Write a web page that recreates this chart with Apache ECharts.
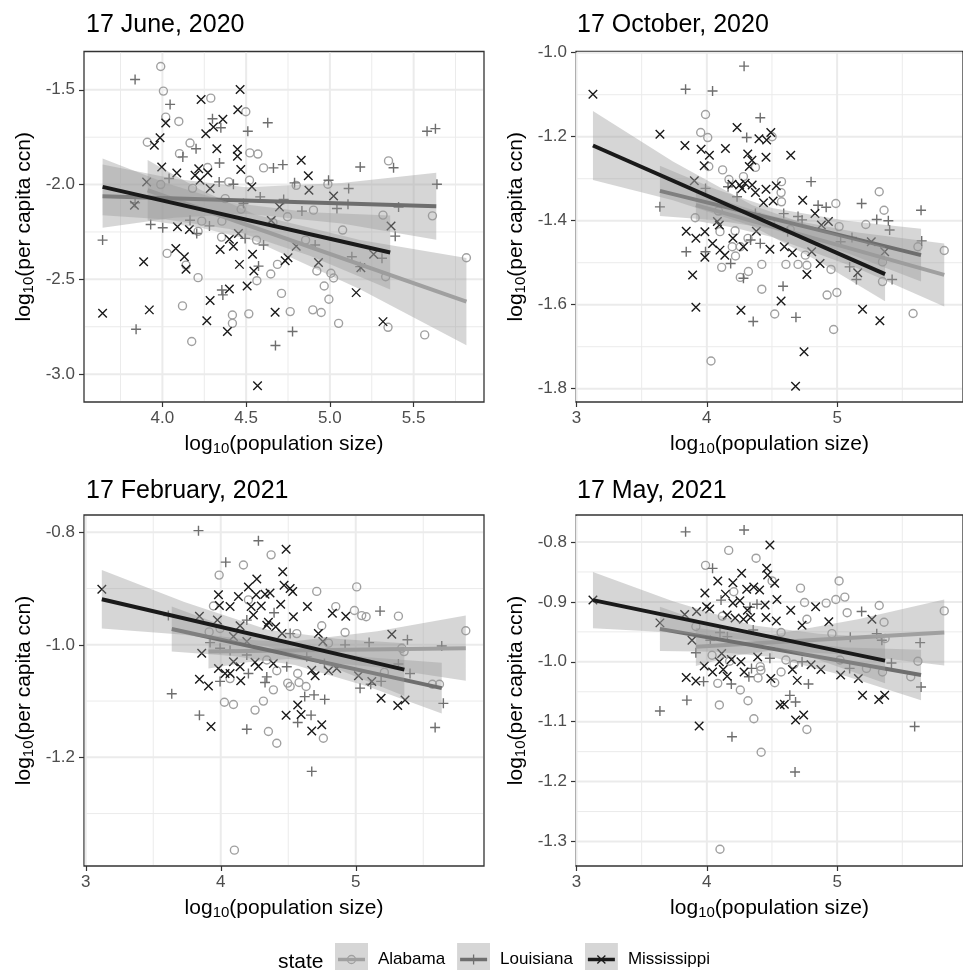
<!DOCTYPE html>
<html><head><meta charset="utf-8">
<script src="https://cdn.jsdelivr.net/npm/echarts@6/dist/echarts.min.js"></script>
<style>html,body{margin:0;padding:0;background:#fff}#c{width:963px;height:970px}</style>
</head><body><div id="c"></div>
<script>
const states = ['Alabama', 'Louisiana', 'Mississippi'];
const panelTitles = ['17 June, 2020', '17 October, 2020', '17 February, 2021', '17 May, 2021'];

// ---------- tick values ----------
const jun20_xMajor = [4.0, 4.5, 5.0, 5.5];
const jun20_xMinor = [3.75, 4.25, 4.75, 5.25, 5.75];
const jun20_yMajor = [-3.0, -2.5, -2.0, -1.5];
const jun20_yMinor = [-2.75, -2.25, -1.75];
const oct20_xMajor = [3, 4, 5];
const oct20_xMinor = [3.5, 4.5, 5.5];
const oct20_yMajor = [-1.8, -1.6, -1.4, -1.2, -1.0];
const oct20_yMinor = [-1.7, -1.5, -1.3, -1.1];
const feb21_xMajor = [3, 4, 5];
const feb21_xMinor = [3.5, 4.5, 5.5];
const feb21_yMajor = [-1.2, -1.0, -0.8];
const feb21_yMinor = [-1.3, -1.1, -0.9];
const may21_xMajor = [3, 4, 5];
const may21_xMinor = [3.5, 4.5, 5.5];
const may21_yMajor = [-1.3, -1.2, -1.1, -1.0, -0.9, -0.8];
const may21_yMinor = [-1.25, -1.15, -1.05, -0.95, -0.85];

// ---------- 17 June 2020 ----------
const jun20_AL = [[3.99,-1.377],[4.006,-1.507],[4.289,-1.544],[4.498,-1.616],[4.02,-1.644],[4.098,-1.667],[3.91,-1.777],[4.165,-1.781],[4.102,-1.837],[4.522,-1.833],[4.57,-1.839],[4.604,-1.912],[4.27,-1.91],[5.35,-1.875],[4.52,-1.977],[4.396,-1.986],[4.799,-2.004],[4.988,-1.998],[4.902,-2.135],[5.317,-2.161],[5.612,-2.165],[4.747,-2.17],[4.235,-2.193],[4.355,-2.193],[4.213,-2.247],[5.076,-2.24],[4.353,-2.277],[4.562,-2.293],[4.855,-2.293],[4.028,-2.363],[5.815,-2.386],[4.687,-2.421],[4.141,-2.425],[4.213,-2.491],[4.647,-2.472],[4.564,-2.507],[4.922,-2.456],[5.006,-2.468],[5.022,-2.493],[5.333,-2.486],[4.966,-2.535],[4.711,-2.574],[4.994,-2.605],[4.12,-2.64],[4.418,-2.688],[4.418,-2.732],[4.516,-2.682],[4.763,-2.67],[4.898,-2.661],[4.948,-2.675],[5.052,-2.732],[5.347,-2.753],[5.566,-2.793],[4.175,-2.828],[4.375,-2.074],[3.99,-2.0],[4.18,-2.02],[4.47,-2.13],[4.66,-2.2]];
const jun20_LA = [[3.837,-1.446],[4.046,-1.577],[4.299,-1.653],[4.349,-1.70],[4.629,-1.674],[4.51,-1.719],[5.58,-1.719],[5.63,-1.705],[4.201,-1.811],[4.122,-1.854],[4.341,-1.886],[4.719,-1.895],[4.663,-1.912],[5.181,-1.907],[5.38,-1.911],[4.339,-1.986],[4.424,-1.998],[4.789,-1.991],[4.992,-1.977],[5.112,-2.021],[5.639,-1.998],[4.04,-1.968],[4.584,-2.065],[4.724,-2.079],[5.042,-2.126],[5.108,-2.104],[5.41,-2.118],[4.833,-2.14],[3.837,-2.096],[3.93,-2.211],[4.002,-2.228],[4.281,-2.218],[3.643,-2.293],[4.205,-2.258],[4.494,-2.284],[4.604,-2.319],[5.39,-2.272],[4.574,-2.43],[5.131,-2.381],[5.311,-2.389],[5.181,-2.433],[4.355,-2.556],[4.361,-2.582],[3.843,-2.763],[4.777,-2.775],[4.675,-2.849],[4.912,-2.319],[4.484,-2.1],[4.165,-2.188]];
const jun20_MS = [[4.464,-1.498],[4.231,-1.551],[4.45,-1.605],[4.02,-1.675],[4.361,-1.656],[4.305,-1.696],[4.259,-1.732],[3.986,-1.753],[3.952,-1.793],[4.325,-1.811],[4.448,-1.814],[4.448,-1.851],[4.829,-1.872],[3.996,-1.907],[4.468,-1.921],[4.217,-1.916],[4.271,-1.937],[4.086,-1.939],[4.195,-1.951],[4.871,-1.954],[4.225,-1.977],[4.534,-2.012],[4.285,-2.021],[4.875,-2.03],[5.022,-2.06],[3.906,-1.986],[3.833,-2.109],[4.699,-2.118],[4.09,-2.223],[4.161,-2.237],[5.365,-2.219],[4.454,-2.258],[4.4,-2.288],[4.345,-2.342],[4.424,-2.325],[4.08,-2.337],[4.131,-2.381],[4.538,-2.367],[4.799,-2.325],[3.888,-2.407],[4.733,-2.402],[5.261,-2.368],[4.46,-2.421],[4.141,-2.447],[4.932,-2.411],[5.185,-2.439],[4.546,-2.456],[4.506,-2.535],[4.4,-2.551],[5.157,-2.57],[4.285,-2.612],[3.643,-2.679],[3.922,-2.661],[4.673,-2.674],[4.265,-2.718],[5.317,-2.723],[4.388,-2.775],[4.568,-3.061],[4.75,-2.386],[4.65,-2.19]];
const jun20_fit_AL = [[3.912,-2.03],[5.815,-2.618]];
const jun20_fit_LA = [[3.643,-2.061],[5.635,-2.114]];
const jun20_fit_MS = [[3.643,-2.012],[5.36,-2.358]];
const jun20_band_AL = [[3.912,-2.19,-1.87],[4.23,-2.228,-2.028],[4.55,-2.297,-2.157],[5.18,-2.552,-2.292],[5.815,-2.848,-2.388]];
const jun20_band_LA = [[3.643,-2.228,-1.894],[4.07,-2.175,-1.969],[4.5,-2.154,-2.014],[5.07,-2.206,-1.992],[5.635,-2.291,-1.937]];
const jun20_band_MS = [[3.643,-2.162,-1.862],[4.02,-2.184,-1.992],[4.4,-2.235,-2.095],[4.88,-2.376,-2.146],[5.36,-2.553,-2.163]];

// ---------- 17 October 2020 ----------
const oct20_AL = [[3.99,-1.147],[3.953,-1.19],[4.007,-1.202],[4.501,-1.2],[4.015,-1.271],[4.121,-1.279],[4.373,-1.273],[4.17,-1.302],[4.281,-1.295],[4.573,-1.307],[4.57,-1.333],[4.573,-1.355],[4.99,-1.359],[5.323,-1.331],[5.36,-1.375],[5.22,-1.409],[5.015,-1.414],[3.911,-1.393],[4.089,-1.377],[4.101,-1.426],[4.217,-1.424],[4.316,-1.442],[4.257,-1.462],[4.195,-1.462],[4.114,-1.511],[4.22,-1.484],[4.319,-1.521],[4.257,-1.535],[4.422,-1.504],[4.607,-1.504],[4.7,-1.504],[4.768,-1.506],[4.953,-1.516],[4.756,-1.482],[5.348,-1.498],[5.348,-1.545],[5.583,-1.621],[5.822,-1.471],[5.62,-1.462],[4.422,-1.563],[4.521,-1.622],[4.923,-1.577],[4.998,-1.571],[4.973,-1.659],[4.032,-1.734],[4.64,-1.421],[4.489,-1.405]];
const oct20_LA = [[4.286,-1.032],[3.837,-1.087],[4.044,-1.091],[4.41,-1.155],[4.306,-1.202],[4.8,-1.307],[5.188,-1.359],[5.644,-1.375],[4.916,-1.368],[4.854,-1.363],[3.64,-1.367],[3.99,-1.323],[4.163,-1.319],[4.232,-1.343],[4.373,-1.383],[4.59,-1.383],[4.7,-1.39],[5.304,-1.397],[5.393,-1.4],[5.403,-1.422],[3.842,-1.474],[3.99,-1.474],[4.336,-1.446],[4.41,-1.454],[4.183,-1.502],[4.281,-1.537],[5.114,-1.44],[5.027,-1.45],[5.096,-1.51],[5.148,-1.54],[5.422,-1.54],[5.649,-1.448],[4.585,-1.556],[4.684,-1.63],[4.356,-1.64],[4.62,-1.426],[4.731,-1.398]];
const oct20_MS = [[3.126,-1.099],[3.64,-1.194],[3.832,-1.221],[3.956,-1.23],[4.02,-1.244],[3.98,-1.269],[4.143,-1.228],[4.232,-1.178],[4.314,-1.241],[4.346,-1.256],[4.4,-1.205],[4.459,-1.208],[4.491,-1.19],[4.454,-1.249],[4.644,-1.244],[3.904,-1.305],[4.193,-1.313],[4.252,-1.315],[4.294,-1.311],[4.348,-1.315],[4.373,-1.333],[4.454,-1.325],[4.533,-1.317],[4.435,-1.357],[4.509,-1.353],[4.736,-1.351],[4.83,-1.383],[4.081,-1.402],[4.096,-1.41],[4.933,-1.402],[4.879,-1.41],[3.842,-1.425],[3.916,-1.442],[3.985,-1.426],[4.044,-1.454],[4.101,-1.47],[4.138,-1.482],[4.2,-1.442],[4.281,-1.462],[4.38,-1.425],[4.484,-1.468],[4.595,-1.462],[4.657,-1.476],[4.805,-1.474],[4.869,-1.502],[4.768,-1.528],[5.158,-1.524],[5.365,-1.474],[5.262,-1.45],[3.891,-1.529],[3.985,-1.487],[3.916,-1.606],[4.262,-1.613],[4.57,-1.591],[5.195,-1.611],[5.328,-1.638],[4.746,-1.712],[4.681,-1.794],[4.326,-1.271],[4.269,-1.323]];
const oct20_fit_AL = [[3.916,-1.363],[5.822,-1.529]];
const oct20_fit_LA = [[3.64,-1.329],[5.644,-1.482]];
const oct20_fit_MS = [[3.126,-1.221],[5.368,-1.527]];
const oct20_band_AL = [[3.916,-1.40,-1.326],[4.21,-1.417,-1.36],[4.5,-1.439,-1.389],[5.16,-1.514,-1.428],[5.822,-1.604,-1.454]];
const oct20_band_LA = [[3.64,-1.389,-1.269],[4.07,-1.399,-1.325],[4.5,-1.42,-1.37],[5.07,-1.476,-1.40],[5.644,-1.545,-1.419]];
const oct20_band_MS = [[3.126,-1.303,-1.139],[3.74,-1.351,-1.259],[4.35,-1.413,-1.363],[4.86,-1.497,-1.419],[5.368,-1.592,-1.462]];

// ---------- 17 February 2021 ----------
const feb21_AL = [[4.373,-0.84],[4.168,-0.858],[3.988,-0.876],[5.007,-0.897],[4.711,-0.905],[4.205,-0.92],[3.946,-0.931],[4.852,-0.932],[4.99,-0.939],[5.044,-0.948],[5.077,-0.95],[5.316,-0.949],[4.748,-0.966],[4.921,-0.978],[5.815,-0.975],[4.563,-0.98],[3.914,-0.977],[3.995,-0.971],[4.798,-0.997],[5.341,-1.006],[5.358,-1.012],[5.212,-1.049],[4.069,-1.06],[4.496,-1.068],[4.57,-1.051],[4.415,-1.046],[4.514,-1.074],[4.58,-1.067],[4.632,-1.074],[4.39,-1.08],[5.568,-1.07],[5.62,-1.07],[4.027,-1.102],[4.094,-1.106],[4.316,-1.1],[4.254,-1.116],[4.353,-1.154],[4.415,-1.175],[4.76,-1.166],[4.101,-1.365],[4.341,-1.027]];
const feb21_LA = [[3.835,-0.797],[4.279,-0.815],[4.037,-0.853],[3.612,-0.948],[4.395,-0.943],[4.193,-0.956],[4.514,-0.98],[5.18,-0.94],[5.383,-0.991],[5.099,-0.996],[4.921,-1.0],[5.637,-1.002],[3.921,-0.996],[3.995,-1.006],[4.069,-1.01],[4.205,-1.051],[4.193,-1.018],[4.341,-1.057],[4.328,-1.067],[3.995,-1.065],[4.489,-1.039],[4.637,-1.021],[4.768,-1.033],[5.402,-1.051],[5.032,-1.077],[5.111,-1.07],[5.188,-1.065],[5.316,-1.034],[3.637,-1.087],[4.622,-1.092],[4.691,-1.089],[4.77,-1.097],[5.649,-1.104],[3.842,-1.125],[4.669,-1.125],[4.57,-1.138],[4.193,-1.15],[5.588,-1.147],[4.674,-1.225]];
const feb21_MS = [[3.119,-0.901],[4.484,-0.83],[4.459,-0.87],[4.267,-0.883],[4.205,-0.897],[3.983,-0.911],[4.131,-0.914],[4.262,-0.911],[4.328,-0.91],[4.365,-0.908],[4.469,-0.894],[4.533,-0.905],[4.514,-0.9],[3.99,-0.93],[4.069,-0.932],[4.225,-0.932],[4.3,-0.931],[4.444,-0.928],[4.642,-0.932],[4.242,-0.947],[3.842,-0.949],[3.975,-0.956],[4.353,-0.96],[4.538,-0.95],[4.827,-0.944],[4.926,-0.949],[4.143,-0.966],[4.341,-0.965],[4.407,-0.968],[4.723,-0.98],[4.756,-0.994],[5.267,-0.981],[4.454,-0.98],[4.094,-0.985],[4.193,-0.994],[3.859,-1.015],[3.983,-1.042],[4.032,-1.051],[4.069,-1.051],[4.143,-1.039],[4.094,-1.03],[4.254,-1.031],[4.279,-1.038],[4.39,-1.033],[4.674,-1.045],[4.699,-1.055],[4.798,-1.046],[4.859,-1.042],[5.02,-1.055],[5.119,-1.065],[3.842,-1.061],[3.909,-1.073],[4.148,-1.064],[5.188,-1.095],[5.311,-1.108],[5.365,-1.098],[4.57,-1.107],[4.484,-1.125],[4.595,-1.124],[4.748,-1.142],[4.674,-1.153],[3.928,-1.145]];
const feb21_fit_AL = [[3.909,-1.012],[5.815,-1.006]];
const feb21_fit_LA = [[3.637,-0.972],[5.637,-1.077]];
const feb21_fit_MS = [[3.119,-0.919],[5.36,-1.044]];
const feb21_band_AL = [[3.909,-1.042,-0.982],[4.2,-1.031,-0.991],[4.5,-1.025,-0.995],[5.16,-1.04,-0.976],[5.815,-1.064,-0.948]];
const feb21_band_LA = [[3.637,-1.012,-0.932],[4.09,-1.02,-0.972],[4.55,-1.036,-1.004],[5.09,-1.074,-1.022],[5.637,-1.122,-1.032]];
const feb21_band_MS = [[3.119,-0.971,-0.867],[3.73,-0.982,-0.924],[4.35,-1.003,-0.973],[4.86,-1.043,-0.989],[5.36,-1.091,-0.997]];

// ---------- 17 May 2021 ----------
const may21_AL = [[4.168,-0.814],[4.378,-0.827],[3.99,-0.839],[5.015,-0.865],[4.501,-0.865],[4.719,-0.877],[4.207,-0.883],[4.99,-0.896],[5.059,-0.892],[4.75,-0.901],[4.916,-0.902],[5.323,-0.906],[5.822,-0.915],[5.077,-0.918],[5.36,-0.934],[4.119,-0.924],[4.96,-0.953],[4.57,-0.951],[4.768,-0.929],[3.916,-0.941],[5.368,-0.961],[4.04,-0.989],[4.175,-0.999],[4.41,-1.008],[4.607,-0.997],[4.669,-1.004],[5.022,-0.997],[5.225,-1.011],[5.62,-0.999],[5.565,-1.025],[5.348,-1.017],[4.415,-1.014],[4.57,-1.017],[4.393,-1.027],[4.521,-1.035],[4.084,-1.036],[4.096,-1.072],[4.257,-1.047],[4.316,-1.065],[4.361,-1.095],[4.768,-1.113],[4.417,-1.151],[4.101,-1.313]];
const may21_LA = [[3.837,-0.783],[4.286,-0.78],[4.044,-0.844],[4.109,-0.897],[4.331,-0.909],[4.385,-0.904],[5.188,-0.916],[5.101,-0.959],[5.304,-0.953],[5.343,-0.964],[5.637,-0.968],[4.356,-0.947],[4.101,-0.951],[4.158,-0.958],[3.916,-0.985],[4.027,-0.964],[4.484,-0.994],[4.731,-1.0],[5.417,-1.002],[4.78,-1.037],[4.188,-1.037],[4.323,-1.025],[4.343,-1.011],[3.975,-1.033],[5.096,-1.011],[5.644,-1.042],[3.847,-1.064],[4.637,-1.056],[4.681,-1.067],[3.64,-1.082],[4.193,-1.125],[5.595,-1.108],[4.677,-1.184]];
const may21_MS = [[3.126,-0.897],[4.484,-0.805],[4.459,-0.844],[4.467,-0.855],[4.267,-0.852],[4.2,-0.868],[4.084,-0.865],[4.143,-0.887],[3.985,-0.885],[4.306,-0.879],[4.36,-0.875],[4.405,-0.88],[4.521,-0.869],[4.538,-0.896],[3.998,-0.908],[4.022,-0.912],[3.921,-0.916],[4.2,-0.902],[4.254,-0.898],[4.311,-0.914],[4.447,-0.905],[4.644,-0.914],[4.835,-0.908],[4.936,-0.933],[5.267,-0.929],[3.83,-0.921],[3.64,-0.935],[4.156,-0.922],[4.217,-0.927],[4.281,-0.929],[4.336,-0.926],[4.454,-0.926],[4.533,-0.932],[4.731,-0.939],[3.886,-0.964],[4.114,-0.986],[4.096,-1.0],[4.188,-0.996],[4.262,-1.0],[4.39,-0.992],[3.98,-1.007],[4.044,-1.017],[4.126,-1.013],[4.156,-1.024],[4.286,-1.017],[4.491,-1.028],[4.657,-1.013],[4.694,-1.031],[4.8,-1.005],[4.875,-1.013],[5.027,-1.022],[5.163,-1.028],[3.842,-1.026],[3.916,-1.032],[4.563,-1.072],[4.595,-1.071],[5.195,-1.056],[5.319,-1.063],[5.365,-1.056],[4.681,-1.097],[4.743,-1.089],[3.941,-1.107]];
const may21_fit_AL = [[3.916,-0.975],[5.822,-0.951]];
const may21_fit_LA = [[3.64,-0.945],[5.644,-1.022]];
const may21_fit_MS = [[3.126,-0.897],[5.368,-0.998]];
const may21_band_AL = [[3.916,-1.007,-0.943],[4.21,-0.99,-0.952],[4.5,-0.981,-0.955],[5.16,-0.989,-0.929],[5.822,-1.006,-0.896]];
const may21_band_LA = [[3.64,-0.982,-0.908],[4.07,-0.983,-0.941],[4.5,-0.992,-0.964],[5.07,-1.024,-0.976],[5.644,-1.064,-0.98]];
const may21_band_MS = [[3.126,-0.944,-0.85],[3.74,-0.951,-0.899],[4.35,-0.965,-0.939],[4.86,-0.997,-0.953],[5.368,-1.036,-0.96]];

// ---------- assembly ----------
const panelData = [
  {pts:[jun20_AL, jun20_LA, jun20_MS], fit:[jun20_fit_AL, jun20_fit_LA, jun20_fit_MS], band:[jun20_band_AL, jun20_band_LA, jun20_band_MS],
   xMajor:jun20_xMajor, xMinor:jun20_xMinor, yMajor:jun20_yMajor, yMinor:jun20_yMinor, xFmt:v=>v.toFixed(1)},
  {pts:[oct20_AL, oct20_LA, oct20_MS], fit:[oct20_fit_AL, oct20_fit_LA, oct20_fit_MS], band:[oct20_band_AL, oct20_band_LA, oct20_band_MS],
   xMajor:oct20_xMajor, xMinor:oct20_xMinor, yMajor:oct20_yMajor, yMinor:oct20_yMinor, xFmt:v=>String(Math.round(v))},
  {pts:[feb21_AL, feb21_LA, feb21_MS], fit:[feb21_fit_AL, feb21_fit_LA, feb21_fit_MS], band:[feb21_band_AL, feb21_band_LA, feb21_band_MS],
   xMajor:feb21_xMajor, xMinor:feb21_xMinor, yMajor:feb21_yMajor, yMinor:feb21_yMinor, xFmt:v=>String(Math.round(v))},
  {pts:[may21_AL, may21_LA, may21_MS], fit:[may21_fit_AL, may21_fit_LA, may21_fit_MS], band:[may21_band_AL, may21_band_LA, may21_band_MS],
   xMajor:may21_xMajor, xMinor:may21_xMinor, yMajor:may21_yMajor, yMinor:may21_yMinor, xFmt:v=>String(Math.round(v))}
];

const layout = [
  {left:84, top:51.5, width:400, height:350.5, xMin:3.532, xMax:5.92, yMin:-3.147, yMax:-1.298, tTop:13, tLeft:86},
  {left:576, top:51.5, width:400, height:350.5, xMin:2.996, xMax:5.966, yMin:-1.8316, yMax:-0.9971, tTop:13, tLeft:577},
  {left:84, top:515, width:400, height:351, xMin:2.987, xMax:5.95, yMin:-1.3932, yMax:-0.7692, tTop:479, tLeft:86},
  {left:576, top:515, width:400, height:351, xMin:2.996, xMax:5.966, yMin:-1.3409, yMax:-0.7549, tTop:479, tLeft:577}
];

const FONT = '"Liberation Sans", Arial, Helvetica, sans-serif';
const COL = ['#A0A0A0', '#6E6E6E', '#1A1A1A'];
const SYM = ['circle', 'path://M5,0L5,10M0,5L10,5', 'path://M0,0L10,10M10,0L0,10'];
const SIZE = [8, 10, 8.5];

function keyIcon(i) {
  const c = COL[i];
  let sym;
  if (i === 0) sym = `<circle cx='16.5' cy='16.5' r='4' fill='none' stroke='${c}' stroke-width='1.3'/>`;
  else if (i === 1) sym = `<path d='M16.5 11.5V21.5M11.5 16.5H21.5' stroke='${c}' stroke-width='1.3' fill='none'/>`;
  else sym = `<path d='M12.5 12.5L20.5 20.5M20.5 12.5L12.5 20.5' stroke='${c}' stroke-width='1.3' fill='none'/>`;
  const svg = `<svg xmlns='http://www.w3.org/2000/svg' width='33' height='33'><rect width='33' height='33' fill='#D6D6D6'/><line x1='3' y1='16.5' x2='30' y2='16.5' stroke='${c}' stroke-width='3.5'/>${sym}</svg>`;
  return 'image://data:image/svg+xml;charset=utf-8,' + encodeURIComponent(svg);
}

const nameRich = {
  a: {fontSize: 21, color: '#000', lineHeight: 24, fontFamily: FONT},
  b: {fontSize: 15, color: '#000', lineHeight: 13, verticalAlign: 'bottom', fontFamily: FONT}
};

const grids = [], xAxes = [], yAxes = [], series = [], titles = [];

layout.forEach((L, gi) => {
  const P = panelData[gi];
  grids.push({left:L.left, top:L.top, width:L.width, height:L.height, show:true,
    borderColor:'#333333', borderWidth:1.3, backgroundColor:'transparent', containLabel:false});
  xAxes.push({type:'value', gridIndex:gi, min:L.xMin, max:L.xMax,
    axisLine:{show:false}, splitLine:{show:false},
    axisTick:{show:true, customValues:P.xMajor, length:5, lineStyle:{color:'#333333', width:1.2}},
    axisLabel:{show:true, customValues:P.xMajor, formatter:P.xFmt, color:'#4D4D4D', fontSize:17, margin:8, fontFamily:FONT},
    name:'{a|log}{b|10}{a|(population size)}', nameLocation:'middle', nameGap:30,
    nameTextStyle:{rich:nameRich}});
  yAxes.push({type:'value', gridIndex:gi, min:L.yMin, max:L.yMax,
    axisLine:{show:false}, splitLine:{show:false},
    axisTick:{show:true, customValues:P.yMajor, length:5, lineStyle:{color:'#333333', width:1.2}},
    axisLabel:{show:true, customValues:P.yMajor, formatter:v=>v.toFixed(1), color:'#4D4D4D', fontSize:17, margin:9, fontFamily:FONT},
    name:'{a|log}{b|10}{a|(per capita ccn)}', nameLocation:'middle', nameGap:48, nameRotate:90,
    nameTextStyle:{rich:nameRich}});
  titles.push({text:panelTitles[gi], left:L.tLeft, top:L.tTop, padding:0,
    textStyle:{fontSize:25, fontWeight:'normal', color:'#000', fontFamily:FONT}});

  const xRef = (L.xMin + L.xMax) / 2, yRef = (L.yMin + L.yMax) / 2;
  function vLines(vals, w) {
    return {type:'custom', xAxisIndex:gi, yAxisIndex:gi, z:1, silent:true,
      data: vals.map(v => [v, yRef]), encode:{x:0, y:1},
      renderItem: (params, api) => {
        const cs = params.coordSys;
        const x = api.coord([api.value(0), api.value(1)])[0];
        return {type:'line', shape:{x1:x, y1:cs.y + 1, x2:x, y2:cs.y + cs.height - 1}, style:{stroke:'#EBEBEB', lineWidth:w}};
      }};
  }
  function hLines(vals, w) {
    return {type:'custom', xAxisIndex:gi, yAxisIndex:gi, z:1, silent:true,
      data: vals.map(v => [xRef, v]), encode:{x:0, y:1},
      renderItem: (params, api) => {
        const cs = params.coordSys;
        const y = api.coord([api.value(0), api.value(1)])[1];
        return {type:'line', shape:{x1:cs.x + 1, y1:y, x2:cs.x + cs.width - 1, y2:y}, style:{stroke:'#EBEBEB', lineWidth:w}};
      }};
  }
  series.push(vLines(P.xMinor, 1), hLines(P.yMinor, 1), vLines(P.xMajor, 2), hLines(P.yMajor, 2));

  states.forEach((s, si) => {
    series.push({type:'scatter', name:s, xAxisIndex:gi, yAxisIndex:gi, z:2, silent:true,
      data:P.pts[si], symbol:SYM[si], symbolSize:SIZE[si],
      itemStyle:{color:'transparent', borderColor:COL[si], borderWidth:1.4, opacity:1}});
  });
  states.forEach((s, si) => {
    const rows = P.band[si];
    series.push({type:'custom', name:s + ' band', xAxisIndex:gi, yAxisIndex:gi, z:3 + 2 * si, silent:true,
      data: rows, encode:{x:0, y:[1, 2]},
      renderItem: (params, api) => {
        if (params.dataIndex !== 0) return null;
        const up = rows.map(r => api.coord([r[0], r[2]]));
        const lo = rows.slice().reverse().map(r => api.coord([r[0], r[1]]));
        return {type:'polygon', shape:{points: up.concat(lo)}, style:{fill:'rgba(153,153,153,0.4)'}};
      }});
    series.push({type:'line', name:s + ' fit', xAxisIndex:gi, yAxisIndex:gi, z:4 + 2 * si, silent:true,
      data:P.fit[si], showSymbol:false, symbol:'none',
      lineStyle:{color:COL[si], width:4}});
  });
});

titles.push({text:'state', left:278, top:952, padding:0,
  textStyle:{fontSize:21, fontWeight:'normal', color:'#000', fontFamily:FONT}});

const chart = echarts.init(document.getElementById('c'), null, {renderer:'canvas'});
chart.setOption({
  animation:false,
  backgroundColor:'#ffffff',
  textStyle:{fontFamily:FONT},
  title:titles,
  grid:grids,
  xAxis:xAxes,
  yAxis:yAxes,
  legend:{left:335, top:943, orient:'horizontal', itemWidth:33, itemHeight:33, itemGap:12, selectedMode:false,
    padding:0,
    data: states.map((s, i) => ({name:s, icon:keyIcon(i)})),
    textStyle:{fontSize:17, color:'#000', padding:[0,0,0,5], fontFamily:FONT}},
  series:series
});
</script>
</body></html>
